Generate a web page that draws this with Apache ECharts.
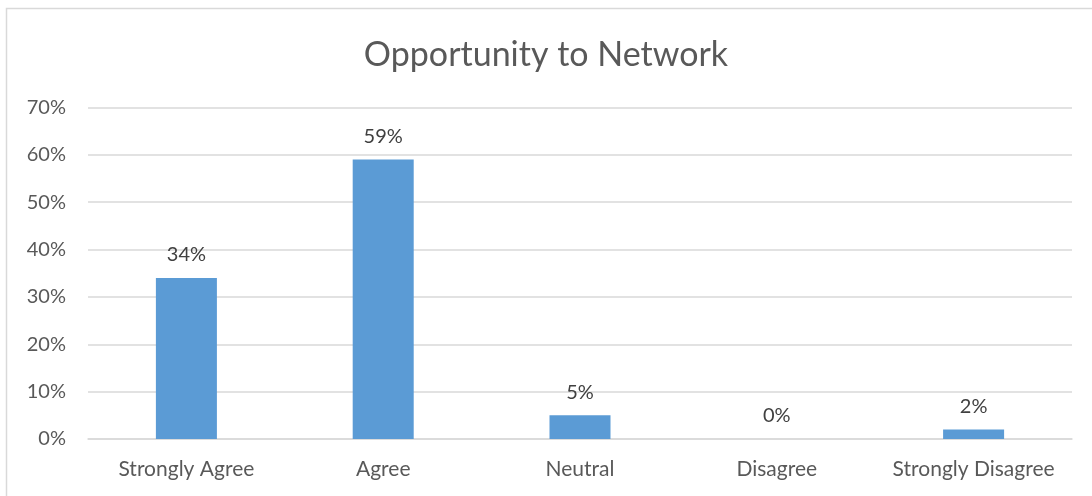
<!DOCTYPE html>
<html><head><meta charset="utf-8">
<script src="https://cdn.jsdelivr.net/npm/echarts@6/dist/echarts.min.js"></script>
<style>html,body{margin:0;padding:0;background:#fff}#c{width:1092px;height:496px}</style>
</head><body><div id="c"></div>
<script>
const categories = ["Strongly Agree", "Agree", "Neutral", "Disagree", "Strongly Disagree"];
const values = [34, 59, 5, 0, 2];
const yTicks = [0, 10, 20, 30, 40, 50, 60, 70];
const titleText = "Opportunity to Network";

const chart = echarts.init(document.getElementById('c'));
const font = "Lato, 'Open Sans', sans-serif";
chart.setOption({
  animation: false,
  title: {
    text: titleText, left: 'center', top: 33,
    textStyle: { fontFamily: font, fontSize: 34, fontWeight: 'normal', color: '#595959' }
  },
  graphic: [{
    type: 'rect', shape: { x: 6.5, y: 8.5, width: 1200, height: 600 },
    style: { fill: 'none', stroke: '#d9d9d9', lineWidth: 1.5 }, silent: true
  }],
  grid: { left: 88, right: 20, top: 107.5, bottom: 57, containLabel: false },
  xAxis: {
    type: 'category', data: categories,
    axisLine: { show: true, lineStyle: { color: '#d9d9d9', width: 1.5 } },
    axisTick: { show: false },
    axisLabel: { interval: 0, hideOverlap: false, fontFamily: font, fontSize: 21, color: '#595959', margin: 20 }
  },
  yAxis: {
    type: 'value', min: 0, max: 70, interval: 10,
    axisLine: { show: false }, axisTick: { show: false },
    axisLabel: { fontFamily: font, fontSize: 20, color: '#595959', margin: 22,
      formatter: v => yTicks.includes(v) ? v + '%' : '' },
    splitLine: { lineStyle: { color: '#d9d9d9', width: 1.5 } }
  },
  series: [{
    type: 'bar', data: values, barWidth: '31%',
    itemStyle: { color: '#5b9bd5' },
    label: { show: true, position: 'top', distance: 13, formatter: p => p.value + '%',
      fontFamily: font, fontSize: 20, color: '#404040' }
  }]
});
</script></body></html>
